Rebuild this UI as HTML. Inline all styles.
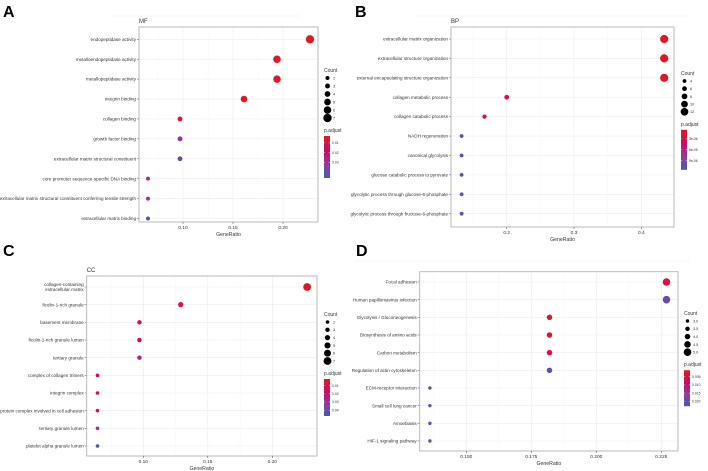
<!DOCTYPE html>
<html><head><meta charset="utf-8"><style>
html,body{margin:0;padding:0;background:#fff;}
svg{display:block;font-family:"Liberation Sans",sans-serif;}
</style></head><body>
<svg id="fig" width="708" height="471" viewBox="0 0 708 471" xmlns="http://www.w3.org/2000/svg">
<defs>
<linearGradient id="pgrad" x1="0" y1="0" x2="0" y2="1">
<stop offset="0" stop-color="#e31a1c"/><stop offset="0.35" stop-color="#cc0a6a"/><stop offset="0.7" stop-color="#8a3fa0"/><stop offset="1" stop-color="#3f5bb5"/>
</linearGradient>
</defs>
<g font-weight="bold" font-size="16" fill="#000">
<text x="3" y="17">A</text>
<text x="355" y="17">B</text>
<text x="3" y="256">C</text>
<text x="356" y="256">D</text>
</g>
<line x1="110" y1="16" x2="300" y2="16" stroke="#eee" stroke-width="0.6"/>
<line x1="414" y1="16" x2="690" y2="16" stroke="#eee" stroke-width="0.6"/>
<line x1="354" y1="261" x2="690" y2="261" stroke="#eee" stroke-width="0.6"/>
</svg>
<script>
// Panel A (MF)
const catsA = ["endopeptidase activity","metalloendopeptidase activity","metallopeptidase activity","integrin binding","collagen binding","growth factor binding","extracellular matrix structural constituent","core promoter sequence-specific DNA binding","extracellular matrix structural constituent conferring tensile strength","extracellular matrix binding"];
const ratioA = [0.227,0.194,0.194,0.161,0.097,0.097,0.097,0.065,0.065,0.065];
const countA = [7,6,6,5,3,3,3,2,2,2];
const padjA = [0.004,0.005,0.005,0.005,0.008,0.03,0.038,0.03,0.03,0.045];
const ticksA = [0.10,0.15,0.20];
const tickLabA = ["0.10","0.15","0.20"];
const legCountA = ["2","3","4","5","6","7"];
const legPA = ["0.01","0.02","0.03"];
// Panel B (BP)
const catsB = ["extracellular matrix organization","extracellular structure organization","external encapsulating structure organization","collagen metabolic process","collagen catabolic process","NADH regeneration","canonical glycolysis","glucose catabolic process to pyruvate","glycolytic process through glucose-6-phosphate","glycolytic process through fructose-6-phosphate"];
const ratioB = [0.434,0.434,0.434,0.200,0.167,0.133,0.133,0.133,0.133,0.133];
const countB = [13,13,13,6,5,4,4,4,4,4];
const padjB = [1.0e-6,1.0e-6,1.0e-6,3.0e-6,3.3e-6,1.05e-5,1.05e-5,1.05e-5,1.05e-5,1.05e-5];
const ticksB = [0.2,0.3,0.4];
const tickLabB = ["0.2","0.3","0.4"];
const legCountB = ["4","6","8","10","12"];
const legPB = ["3e-06","6e-06","9e-06"];
// Panel C (CC)
const catsC = [["collagen-containing","extracellular matrix"],["ficolin-1-rich granule"],["basement membrane"],["ficolin-1-rich granule lumen"],["tertiary granule"],["complex of collagen trimers"],["integrin complex"],["protein complex involved in cell adhesion"],["tertiary granule lumen"],["platelet alpha granule lumen"]];
const ratioC = [0.227,0.129,0.097,0.097,0.097,0.0645,0.0645,0.0645,0.0645,0.0645];
const countC = [7,4,3,3,3,2,2,2,2,2];
const padjC = [0.004,0.01,0.013,0.016,0.025,0.015,0.015,0.015,0.03,0.045];
const ticksC = [0.10,0.15,0.20];
const tickLabC = ["0.10","0.15","0.20"];
const legCountC = ["2","3","4","5","6","7"];
const legPC = ["0.01","0.02","0.03","0.04"];
// Panel D (KEGG)
const catsD = ["Focal adhesion","Human papillomavirus infection","Glycolysis / Gluconeogenesis","Biosynthesis of amino acids","Carbon metabolism","Regulation of actin cytoskeleton","ECM-receptor interaction","Small cell lung cancer","Amoebiasis","HIF-1 signaling pathway"];
const ratioD = [0.227,0.227,0.182,0.182,0.182,0.182,0.136,0.136,0.136,0.136];
const countD = [5,5,4,4,4,4,3,3,3,3];
const padjD = [0.005,0.019,0.003,0.003,0.005,0.021,0.019,0.019,0.019,0.019];
const ticksD = [0.150,0.175,0.200,0.225];
const tickLabD = ["0.150","0.175","0.200","0.225"];
const legCountD = ["3.0","3.5","4.0","4.5","5.0"];
const legPD = ["0.005","0.010","0.015","0.020"];

const NS="http://www.w3.org/2000/svg";
const svg=document.getElementById('fig');
function mk(tag,attrs,parent){const e=document.createElementNS(NS,tag);for(const k in attrs)e.setAttribute(k,attrs[k]);(parent||svg).appendChild(e);return e;}
const stops=[[0,[227,26,28]],[0.35,[204,10,106]],[0.7,[138,63,160]],[1,[63,91,181]]];
function colorAt(t){t=Math.max(0,Math.min(1,t));for(let i=1;i<stops.length;i++){if(t<=stops[i][0]){const a=stops[i-1],b=stops[i];const u=(t-a[0])/(b[0]-a[0]);const c=a[1].map((v,j)=>Math.round(v+(b[1][j]-v)*u));return `rgb(${c[0]},${c[1]},${c[2]})`;}}return 'rgb(63,91,181)';}

function panel(p){
  const g=mk('g',{});
  
  
  const xs=v=>p.x0+(v-p.xmin)/(p.xmax-p.xmin)*(p.x1-p.x0);
  const n=p.cats.length;
  const ys=i=>p.ry0+i*(p.ry1-p.ry0)/(n-1);
  const cmin=Math.min(...p.count),cmax=Math.max(...p.count);
  const rs=c=>p.rmin+(cmax===cmin?0:(c-cmin)/(cmax-cmin))*(p.rmax-p.rmin);
  const pmin=p.pmin,pmax=p.pmax;
  const cs=v=>colorAt((v-pmin)/(pmax-pmin));
  if(p.title){const t=mk('text',{x:p.x0,y:p.y0-4,'font-size':6,fill:'#333'},g);t.textContent=p.title;
    }
  // grid
  p.ticks.forEach((v,i)=>{
    const gl=mk('line',{x1:xs(v),x2:xs(v),y1:p.y0,y2:p.y1,stroke:'#ebebeb','stroke-width':0.6},g);
    
    if(i<p.ticks.length-1){const mv=(v+p.ticks[i+1])/2;mk('line',{x1:xs(mv),x2:xs(mv),y1:p.y0,y2:p.y1,stroke:'#f4f4f4','stroke-width':0.4},g);}
  });
  {const step=p.ticks[1]-p.ticks[0];const mv=p.ticks[0]-step/2;if(mv>p.xmin)mk('line',{x1:xs(mv),x2:xs(mv),y1:p.y0,y2:p.y1,stroke:'#f4f4f4','stroke-width':0.4},g);}
  p.cats.forEach((c,i)=>{
    const gl=mk('line',{x1:p.x0,x2:p.x1,y1:ys(i),y2:ys(i),stroke:'#ebebeb','stroke-width':0.6},g);
    
    mk('line',{x1:p.x0-2,x2:p.x0,y1:ys(i),y2:ys(i),stroke:'#444','stroke-width':0.5},g);
    const lines=Array.isArray(c)?c:[c];
    const t=mk('text',{x:p.x0-3,y:ys(i)+1.6-(lines.length-1)*2.6,'font-size':4.6,fill:'#333','text-anchor':'end'},g);
    
    lines.forEach((l,k)=>{const ts=mk('tspan',{x:p.x0-3,dy:k?5.2:0},t);ts.textContent=l;});
  });
  const box=mk('rect',{x:p.x0,y:p.y0,width:p.x1-p.x0,height:p.y1-p.y0,fill:'none',stroke:'#b3b3b3','stroke-width':0.9},g);
  
  p.ticks.forEach((v,i)=>{
    mk('line',{x1:xs(v),x2:xs(v),y1:p.y1,y2:p.y1+2,stroke:'#444','stroke-width':0.5},g);
    const t=mk('text',{x:xs(v),y:p.y1+7,'font-size':4.8,fill:'#333','text-anchor':'middle'},g);
    t.textContent=p.tickLab[i];
    
  });
  const xt=mk('text',{x:(p.x0+p.x1)/2,y:p.y1+14,'font-size':5.2,fill:'#333','text-anchor':'middle'},g);
  xt.textContent='GeneRatio';
  
  p.ratio.forEach((v,i)=>{
    const d=mk('circle',{cx:xs(v),cy:ys(i),r:rs(p.count[i]),fill:cs(p.padj[i])},g);
    
  });
  // legend
  const lg=mk('g',{},g);
  
  const ct=mk('text',{x:p.lx,y:p.ly,'font-size':5,fill:'#333'},lg);ct.textContent='Count';
  const nc=p.legCount.length;
  p.legCount.forEach((l,i)=>{
    const cy=p.ly+6+i*p.lstep;
    const cv=parseFloat(l);
    mk('circle',{cx:p.lx+3.5,cy:cy,r:rs(cv),fill:'#000'},lg);
    const t=mk('text',{x:p.lx+9,y:cy+1.4,'font-size':3.8,fill:'#333'},lg);t.textContent=l;
    
  });
  const py=p.ly+6+(nc-1)*p.lstep+14;
  const pt=mk('text',{x:p.lx,y:py,'font-size':5,fill:'#333'},lg);pt.textContent='p.adjust';
  const by0=py+4,bh=p.barH;
  const bar=mk('rect',{x:p.lx,y:by0,width:6,height:bh,fill:'url(#pgrad)'},lg);
  
  p.legP.forEach(l=>{
    const v=parseFloat(l);const yy=by0+(v-pmin)/(pmax-pmin)*bh;
    mk('line',{x1:p.lx,x2:p.lx+1.2,y1:yy,y2:yy,stroke:'#fff','stroke-width':0.4},lg);
    mk('line',{x1:p.lx+4.8,x2:p.lx+6,y1:yy,y2:yy,stroke:'#fff','stroke-width':0.4},lg);
    const t=mk('text',{x:p.lx+8,y:yy+1.2,'font-size':3.4,fill:'#333'},lg);t.textContent=l;
  });
}
panel({id:'mf',title:'MF',cats:catsA,ratio:ratioA,count:countA,padj:padjA,ticks:ticksA,tickLab:tickLabA,legCount:legCountA,legP:legPA,
  x0:139,x1:318,y0:27,y1:222,xmin:0.10-(183-139)/1000,xmax:0.10+(318-183)/1000,ry0:39.3,ry1:218.5,rmin:2,rmax:4.2,pmin:0.003,pmax:0.046,
  lx:324,ly:72,lstep:8,barH:42});
panel({id:'bp',title:'BP',cats:catsB,ratio:ratioB,count:countB,padj:padjB,ticks:ticksB,tickLab:tickLabB,legCount:legCountB,legP:legPB,
  x0:451,x1:674,y0:27,y1:227,xmin:0.2-(506.7-451)/673,xmax:0.4+(674-641.3)/673,ry0:39,ry1:213.7,rmin:1.9,rmax:4.1,pmin:5e-7,pmax:1.15e-5,
  lx:681,ly:75,lstep:7.7,barH:40});
panel({id:'cc',title:'CC',cats:catsC,ratio:ratioC,count:countC,padj:padjC,ticks:ticksC,tickLab:tickLabC,legCount:legCountC,legP:legPC,
  x0:86.7,x1:317,y0:276,y1:456,xmin:0.10-(143.3-86.7)/1290,xmax:0.10+(317-143.3)/1290,ry0:287,ry1:446,rmin:1.8,rmax:3.9,pmin:0.002,pmax:0.047,
  lx:324,ly:316,lstep:7.8,barH:37});
panel({id:'kegg',title:null,cats:catsD,ratio:ratioD,count:countD,padj:padjD,ticks:ticksD,tickLab:tickLabD,legCount:legCountD,legP:legPD,
  x0:419.7,x1:678,y0:271.7,y1:451,xmin:0.150-(466.3-419.7)/2600,xmax:0.225+(678-661.3)/2600,ry0:282,ry1:441,rmin:1.7,rmax:3.8,pmin:0.001,pmax:0.023,
  lx:684,ly:315,lstep:7.8,barH:36});
</script>
</body></html>
